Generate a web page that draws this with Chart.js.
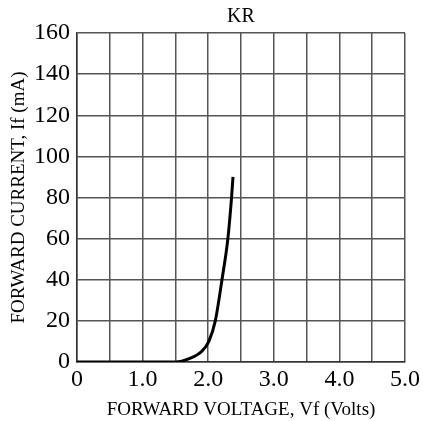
<!DOCTYPE html>
<html>
<head>
<meta charset="utf-8">
<script src="https://cdn.jsdelivr.net/npm/chart.js"></script>
<style>
  html, body { margin: 0; padding: 0; background: #fff; }
  #wrap { width: 423px; height: 421px; }
</style>
</head>
<body>
<div id="wrap"><canvas id="chart" width="423" height="421"></canvas></div>
<script>
// forward voltage (V) vs forward current (mA)
const voltages = [0, 0.5, 1.0, 1.5, 1.72, 1.895, 2.01, 2.108, 2.21, 2.3, 2.356, 2.378];
const currents = [0, 0, 0, 0, 1.8, 5, 10, 20, 40, 60, 80, 90];

const xTicks = [0, 1, 2, 3, 4, 5];
const yMax = 160;

const points = voltages.map((v, i) => ({ x: v, y: currents[i] }));

const ctx = document.getElementById('chart');
const serif = '"Liberation Serif", "DejaVu Serif", serif';

new Chart(ctx, {
    type: 'line',
    data: {
        datasets: [
            {
                label: 'KR',
                data: points,
                borderColor: '#000',
                borderWidth: 3,
                pointRadius: 0,
                cubicInterpolationMode: 'monotone',
                fill: false
            }
        ]
    },
    options: {
        responsive: false,
        animation: false,
        layout: {
            padding: { left: 0, right: 16, top: 0, bottom: 0 }
        },
        scales: {
            x: {
                type: 'linear',
                min: 0,
                max: 5,
                afterFit: (scale) => { scale.height = 59; },
                ticks: {
                    stepSize: 0.5,
                    autoSkip: false,
                    maxRotation: 0,
                    padding: 3,
                    color: '#000',
                    font: { family: serif, size: 24 },
                    callback: (v) => {
                        if (!xTicks.includes(v)) return '';
                        return v === 0 ? '0' : v.toFixed(1);
                    }
                },
                grid: { color: '#555', lineWidth: 1.5, drawTicks: false },
                border: { color: '#333', width: 1.5 },
                title: {
                    display: true,
                    text: 'FORWARD VOLTAGE, Vf (Volts)',
                    color: '#000',
                    font: { family: serif, size: 19 },
                    padding: { top: 7, bottom: 0 }
                }
            },
            y: {
                min: 0,
                max: yMax,
                afterFit: (scale) => { scale.width = 77; },
                ticks: {
                    stepSize: 20,
                    padding: 7,
                    color: '#000',
                    font: { family: serif, size: 24 }
                },
                grid: { color: '#555', lineWidth: 1.5, drawTicks: false },
                border: { color: '#333', width: 1.5 },
                title: {
                    display: true,
                    text: 'FORWARD CURRENT, If (mA)',
                    color: '#000',
                    font: { family: serif, size: 19 },
                    padding: { top: 8, bottom: 0 }
                }
            }
        },
        plugins: {
            legend: { display: false },
            tooltip: { enabled: false },
            title: {
                display: true,
                fullSize: false,
                text: 'KR',
                color: '#000',
                font: { family: serif, size: 20, weight: 'normal' },
                padding: { top: 5, bottom: 4 }
            }
        }
    }
});
</script>
</body>
</html>
